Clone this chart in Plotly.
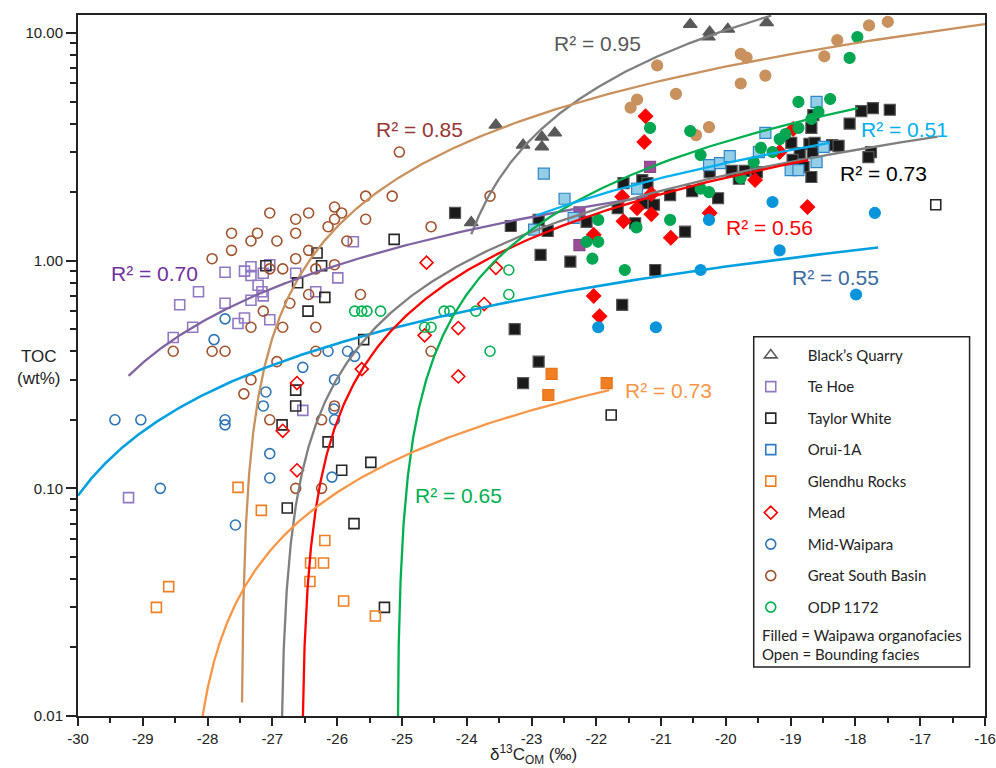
import numpy as np
import plotly.graph_objects as go

# ---------------- data (δ13C_OM ‰, TOC wt%) ----------------
bq_filled_x = [-20.55, -20.25, -20.27, -19.97, -19.37, -23.55, -23.13, -22.84, -22.84, -22.64, -23.93]
bq_filled_y = [10.9, 10.1, 9.6, 10.4, 11.1, 3.94, 3.22, 3.49, 3.16, 3.64, 1.47]

tehoe_open_x = [-25.75, -27.73, -27.43, -27.33, -27.33, -27.14, -27.04, -26.64, -25.99, -27.22, -27.16, -27.14,
                -27.33, -28.14, -27.73, -28.43, -26.33, -27.43, -27.53, -27.04, -28.23, -28.53, -26.53, -29.22]
tehoe_open_y = [1.21, 0.89, 0.90, 0.94, 0.86, 0.88, 0.96, 0.88, 0.84, 0.78, 0.73, 0.70,
                0.67, 0.73, 0.65, 0.64, 0.73, 0.56, 0.53, 0.55, 0.51, 0.46, 0.22, 0.091]
tehoe_filled_x = [-21.17, -22.26, -22.26]
tehoe_filled_y = [2.58, 1.63, 1.17]

tw_open_x = [-26.31, -26.24, -27.10, -26.61, -26.19, -26.45, -25.59, -26.64, -25.12, -26.64, -26.85, -26.14,
             -25.48, -25.93, -26.77, -25.74, -25.27, -21.77, -16.76]
tw_open_y = [1.08, 0.95, 0.95, 0.80, 0.69, 0.60, 0.45, 0.27, 1.24, 0.23, 0.19, 0.16,
             0.13, 0.12, 0.082, 0.070, 0.030, 0.21, 1.76]
tw_filled_x = [-24.18, -23.32, -22.89, -22.75, -22.86, -22.40, -23.26, -22.89, -23.13, -21.58, -21.29, -21.21,
               -20.25, -19.91, -19.71, -19.52, -19.80, -20.52, -20.12, -20.86, -21.67, -21.29, -21.11, -22.15,
               -21.40, -20.63, -18.99, -18.68, -18.71, -18.63, -18.86, -18.66, -18.97, -18.80, -18.68, -18.36,
               -18.26, -18.09, -17.91, -17.73, -17.47, -18.65, -17.76, -17.80, -21.09, -21.60]
tw_filled_y = [1.62, 1.42, 1.51, 1.35, 1.06, 0.99, 0.50, 0.36, 0.29, 2.19, 2.26, 2.19,
               2.45, 2.48, 2.48, 2.45, 2.29, 2.02, 1.88, 1.94, 1.70, 1.79, 1.76, 1.48,
               1.46, 1.34, 3.29, 3.83, 3.26, 3.29, 2.97, 2.97, 2.77, 2.58, 2.33, 3.22,
               3.19, 4.00, 4.54, 4.68, 4.60, 4.36, 3.00, 2.85, 0.91, 0.64]

orui_filled_x = [-22.81, -22.49, -22.35, -22.96, -21.37, -20.26, -20.09, -19.94, -19.49, -19.39, -18.60, -18.49,
                 -18.60, -19.00, -18.88]
orui_filled_y = [2.41, 1.87, 1.54, 1.37, 2.07, 2.63, 2.68, 2.88, 3.00, 3.64, 4.98, 3.16,
                 2.71, 2.50, 2.50]

glendhu_open_x = [-27.53, -27.17, -28.60, -28.79, -26.19, -26.41, -26.21, -26.42, -25.90, -25.41]
glendhu_open_y = [0.101, 0.080, 0.037, 0.030, 0.059, 0.047, 0.047, 0.039, 0.032, 0.0275]
glendhu_filled_x = [-22.69, -22.74, -21.84]
glendhu_filled_y = [0.318, 0.257, 0.290]

mead_open_x = [-24.62, -23.55, -23.73, -24.13, -24.65, -25.62, -24.13, -26.62, -26.84, -26.62]
mead_open_y = [0.98, 0.93, 0.645, 0.506, 0.47, 0.334, 0.31, 0.29, 0.179, 0.12]
mead_filled_x = [-21.24, -21.26, -18.96, -19.17, -19.55, -21.15, -21.60, -21.37, -21.15, -21.58, -22.04, -20.85,
                 -20.25, -18.74, -22.04, -21.95]
mead_filled_y = [4.31, 3.32, 3.79, 3.00, 2.26, 1.96, 1.91, 1.70, 1.60, 1.49, 1.30, 1.26,
                 1.62, 1.72, 0.70, 0.57]

midw_open_x = [-27.73, -27.90, -26.14, -25.84, -25.73, -26.53, -26.04, -27.10, -27.14, -26.05, -26.04, -29.43,
               -29.03, -27.73, -27.73, -27.04, -27.04, -26.08, -28.73, -27.57]
midw_open_y = [0.555, 0.45, 0.40, 0.40, 0.38, 0.34, 0.30, 0.265, 0.23, 0.223, 0.20, 0.20,
               0.20, 0.20, 0.19, 0.142, 0.111, 0.112, 0.10, 0.069]
midw_filled_x = [-19.28, -17.70, -20.26, -19.17, -20.39, -17.99, -21.97, -21.08]
midw_filled_y = [1.81, 1.62, 1.51, 1.11, 0.91, 0.71, 0.51, 0.51]

gsb_open_x = [-25.56, -26.04, -25.93, -27.04, -26.44, -26.04, -26.64, -25.56, -26.14, -27.63, -27.23, -26.64,
              -27.33, -26.93, -25.85, -27.63, -26.44, -27.93, -26.64, -26.04, -27.04, -26.84, -26.33, -26.44,
              -25.64, -26.73, -27.14, -27.33, -26.84, -26.33, -28.53, -27.93, -27.73, -26.33, -26.93, -27.33,
              -27.44, -25.04, -25.15, -23.64, -24.55, -24.55, -27.04, -26.04, -26.24, -26.64, -26.24]
gsb_open_y = [1.92, 1.72, 1.62, 1.62, 1.62, 1.52, 1.52, 1.52, 1.41, 1.32, 1.32, 1.32,
              1.22, 1.22, 1.22, 1.11, 1.11, 1.02, 1.02, 0.96, 0.92, 0.92, 0.92, 0.71,
              0.71, 0.65, 0.60, 0.51, 0.51, 0.51, 0.40, 0.40, 0.40, 0.40, 0.36, 0.30,
              0.26, 3.0, 1.92, 1.92, 1.41, 0.40, 0.20, 0.23, 0.20, 0.10, 0.10]
gsb_filled_x = [-17.79, -17.50, -18.28, -21.06, -19.77, -19.68, -18.48, -19.39, -19.77, -20.77, -21.47, -21.37,
                -20.46, -20.26]
gsb_filled_y = [10.8, 11.2, 9.3, 7.2, 8.1, 7.8, 7.9, 6.5, 6.0, 5.4, 4.7, 5.1,
                3.56, 3.86]

odp_open_x = [-23.35, -23.35, -25.73, -25.62, -25.54, -25.33, -24.35, -24.26, -23.86, -24.65, -24.55, -23.64]
odp_open_y = [0.91, 0.71, 0.60, 0.60, 0.60, 0.60, 0.60, 0.60, 0.60, 0.51, 0.51, 0.40]
odp_filled_x = [-17.97, -18.09, -18.39, -18.88, -18.57, -18.68, -18.88, -19.08, -19.17, -19.46, -19.28, -19.57,
                -20.39, -20.55, -21.17, -19.77, -20.39, -20.26, -21.97, -20.86, -21.38, -22.15, -21.97, -22.06,
                -21.56]
odp_filled_y = [9.6, 7.77, 5.13, 4.98, 4.5, 4.19, 3.83, 3.6, 3.42, 3.13, 3.0, 2.71,
                2.91, 3.71, 3.83, 2.31, 2.07, 2.0, 1.51, 1.51, 1.40, 1.21, 1.21, 1.02,
                0.91]

# Linear trendlines TOC = slope * δ13C + intercept
fit_names = ["Black's Quarry", "Great South Basin", "Te Hoe", "Mid-Waipara", "Taylor White",
             "Mead", "ODP 1172", "Orui-1A", "Glendhu Rocks"]
fit_slope = [2.29, 0.952, 0.200, 0.0849, 0.345, 0.3526, 0.657, 0.377, 0.0414]
fit_intercept = [56.105, 26.161, 6.156, 2.640, 9.274, 9.365, 16.478, 10.224, 1.1724]
fit_x_start = [-23.93, -27.468, -29.22, -30.0, -26.875, -26.555, -25.075, -22.93, -28.15]
fit_x_end = [-19.30, -16.0, -21.2, -17.65, -16.73, -18.73, -17.96, -18.40, -21.80]
fit_r2 = ["0.95", "0.85", "0.70", "0.55", "0.73", "0.56", "0.65", "0.51", "0.73"]

x_tick_vals = list(range(-30, -15))
x_tick_text = [str(v) for v in x_tick_vals]
y_tick_vals = [0.01, 0.1, 1, 10]
y_tick_text = ["0.01", "0.10", "1.00", "10.00"]

# ---------------- styles ----------------
FONT = "Liberation Sans, Arial, sans-serif"
LFONT = "Lato, Carlito, Open Sans, sans-serif"

fit_colors = ["#7f7f7f", "#c8915e", "#8064a2", "#00a0e0", "#7f7f7f", "#ff0000", "#00b050", "#00b0f0", "#f79646"]
r2_colors = ["#595959", "#953735", "#7030a0", "#3b6aa0", "#000000", "#ff0000", "#00b050", "#00b0f0", "#f79646"]
r2_pos = [(-21.98, 0.952), (-24.73, 0.578), (-28.82, -0.058), (-18.31, -0.072), (-17.57, 0.381),
          (-19.32, 0.144), (-24.13, -1.033), (-17.24, 0.578), (-20.88, -0.572)]

fig = go.Figure()

def add_site(name, sym, open_col, fill_col, fill_line, ox, oy, fx, fy, size=10):
    fig.add_trace(go.Scatter(
        x=ox if ox else [None], y=oy if oy else [None], mode="markers", name=name,
        legendgroup=name, showlegend=True,
        marker=dict(symbol=sym + "-open", size=size, color=open_col, line=dict(width=1.6, color=open_col))))
    if fx:
        fig.add_trace(go.Scatter(
            x=fx, y=fy, mode="markers", name=name + " (Waipawa)", legendgroup=name, showlegend=False,
            marker=dict(symbol=sym, size=size + 1, color=fill_col, line=dict(width=1.2, color=fill_line))))

add_site("Black\u2019s Quarry", "triangle-up", "#595959", "#595959", "#595959", [], [], bq_filled_x, bq_filled_y, 11)
add_site("Te Hoe", "square", "#9178c2", "#9b4c96", "#8a4a8a", tehoe_open_x, tehoe_open_y, tehoe_filled_x, tehoe_filled_y)
add_site("Taylor White", "square", "#262626", "#1a1a1a", "#555555", tw_open_x, tw_open_y, tw_filled_x, tw_filled_y)
add_site("Orui-1A", "square", "#2e7cc4", "#93cde6", "#2e86c8", [], [], orui_filled_x, orui_filled_y)
add_site("Glendhu Rocks", "square", "#f07f21", "#f07f21", "#e8731a", glendhu_open_x, glendhu_open_y, glendhu_filled_x, glendhu_filled_y)
add_site("Mead", "diamond", "#ff0000", "#ff0000", "#ff0000", mead_open_x, mead_open_y, mead_filled_x, mead_filled_y)
add_site("Mid-Waipara", "circle", "#2e75b6", "#0a95da", "#0a95da", midw_open_x, midw_open_y, midw_filled_x, midw_filled_y)
add_site("Great South Basin", "circle", "#a0522d", "#c8915e", "#c8915e", gsb_open_x, gsb_open_y, gsb_filled_x, gsb_filled_y)
add_site("ODP 1172", "circle", "#00b050", "#00a651", "#00a651", odp_open_x, odp_open_y, odp_filled_x, odp_filled_y)

# trendlines
for i, nm in enumerate(fit_names):
    a, b = fit_slope[i], fit_intercept[i]
    x0 = -b / a
    d = np.geomspace(fit_x_start[i] - x0, fit_x_end[i] - x0, 400)
    xs = x0 + d
    ys = a * xs + b
    fig.add_trace(go.Scatter(x=xs, y=ys, mode="lines", showlegend=False, hoverinfo="skip",
                             line=dict(color=fit_colors[i], width=2.3 if i != 3 else 2.6)))
    px, py = r2_pos[i]
    fig.add_annotation(x=px, y=py, xref="x", yref="y", text="R\u00b2 = " + fit_r2[i], showarrow=False,
                       xanchor="center", yanchor="middle",
                       font=dict(family=FONT, size=21, color=r2_colors[i]))

minor_y = [m * 10.0 ** e for e in (-2, -1, 0, 1) for m in range(2, 10)]
minor_x = [v + 0.5 for v in range(-30, -16)]

fig.update_xaxes(range=[-30, -16], tickvals=x_tick_vals, ticktext=x_tick_text, ticks="outside", ticklen=8,
                 tickwidth=1.5, tickcolor="#222", showline=True, linewidth=2, linecolor="#222", mirror=True,
                 showgrid=False, zeroline=False, tickfont=dict(family=FONT, size=15, color="#222"),
                 ticklabeloverflow="allow", automargin=False,
                 minor=dict(tickvals=minor_x, ticks="outside", ticklen=5, tickwidth=1.5, tickcolor="#222"))
fig.update_yaxes(type="log", range=[-2, 1.079], tickvals=y_tick_vals, ticktext=y_tick_text, ticks="outside",
                 ticklen=10, tickwidth=1.5, tickcolor="#222", showline=True, linewidth=2, linecolor="#222",
                 mirror=True, showgrid=False, zeroline=False, tickfont=dict(family=FONT, size=15, color="#222"),
                 ticklabeloverflow="allow", automargin=False,
                 minor=dict(tickvals=minor_y, ticks="outside", ticklen=6, tickwidth=1.5, tickcolor="#222"))

# axis titles
fig.add_annotation(x=-0.0441, y=0.497, xref="paper", yref="paper", text="TOC<br>(wt%)", showarrow=False,
                   xanchor="center", yanchor="middle",
                   font=dict(family=FONT, size=17, color="#222"))
fig.add_annotation(x=0.5017, y=-0.0556, xref="paper", yref="paper",
                   text="\u03b4<sup>13</sup>C<sub>OM</sub> (\u2030)", showarrow=False,
                   xanchor="center", yanchor="middle",
                   font=dict(family=FONT, size=17, color="#222"))

# legend box and notes
fig.add_shape(type="rect", xref="paper", yref="paper", x0=0.745, x1=0.983, y0=0.070, y1=0.541,
              line=dict(color="#222", width=1.5), fillcolor="white", layer="below")
fig.add_annotation(x=0.752, y=0.1155, xref="paper", yref="paper", xanchor="left", yanchor="middle",
                   text="Filled = Waipawa organofacies", showarrow=False,
                   font=dict(family=LFONT, size=15, color="#222"))
fig.add_annotation(x=0.752, y=0.088, xref="paper", yref="paper", xanchor="left", yanchor="middle",
                   text="Open = Bounding facies", showarrow=False,
                   font=dict(family=LFONT, size=15, color="#222"))

fig.update_layout(
    width=996, height=768, autosize=False,
    margin=dict(l=78, r=11, t=15, b=52),
    paper_bgcolor="white", plot_bgcolor="white",
    showlegend=True,
    legend=dict(x=0.723, y=0.538, xanchor="left", yanchor="top", traceorder="grouped", tracegroupgap=9,
                itemwidth=64, bgcolor="rgba(0,0,0,0)", borderwidth=0,
                font=dict(family=LFONT, size=15, color="#222")),
)

fig.write_html("out.html", config={"displayModeBar": False},
               post_script="document.body.style.margin='0';")
